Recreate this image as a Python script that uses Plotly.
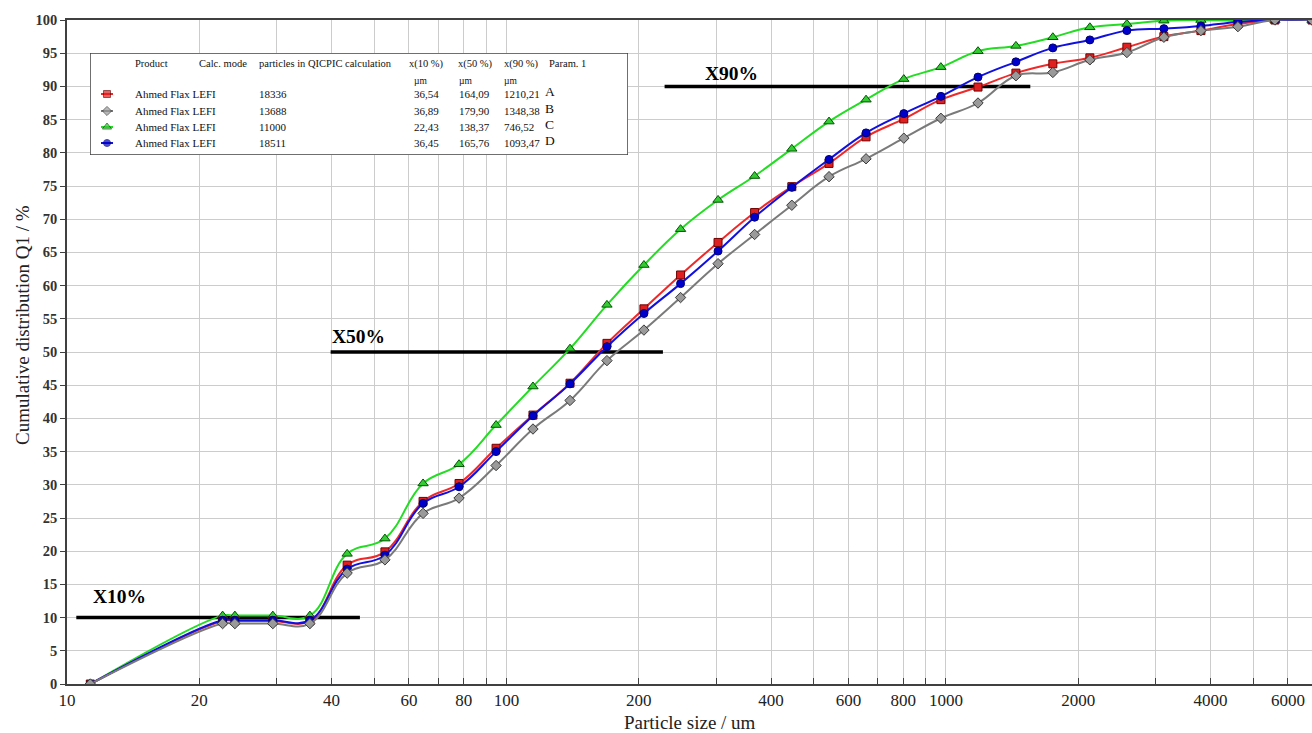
import numpy as np
import plotly.graph_objects as go

# ---------------------------------------------------------------------------
# Particle size classes (µm) and cumulative distributions Q1 (%)
# ---------------------------------------------------------------------------
sizes = [11.3, 22.6, 24.1, 29.4, 35.7, 43.4, 52.9, 64.6, 78.0, 94.7, 114.9,
         139.5, 169.3, 205.5, 249, 303, 367, 446, 542, 658, 802, 974, 1183,
         1443, 1751, 2126, 2581, 3133, 3804, 4617, 5606, 6808]

q1_a = [0, 9.5, 9.5, 9.5, 9.5, 17.9, 19.9, 27.5, 30.2, 35.5, 40.5, 45.3, 51.3,
        56.5, 61.6, 66.5, 71.0, 74.9, 78.4, 82.4, 85.1, 88.0, 89.9, 92.0, 93.4,
        94.3, 95.9, 97.5, 98.4, 99.4, 100, 100]
q1_b = [0, 9.1, 9.1, 9.1, 9.1, 16.7, 18.7, 25.7, 28.0, 32.9, 38.4, 42.7, 48.7,
        53.3, 58.2, 63.3, 67.7, 72.1, 76.4, 79.1, 82.2, 85.2, 87.5, 91.6, 92.1,
        94.0, 95.1, 97.4, 98.4, 99.0, 100, 100]
q1_c = [0, 10.3, 10.3, 10.3, 10.3, 19.6, 21.9, 30.2, 33.1, 39.0, 44.8, 50.5,
        57.1, 63.1, 68.5, 72.9, 76.5, 80.6, 84.7, 88.0, 91.1, 92.9, 95.3, 96.1,
        97.4, 98.9, 99.4, 99.9, 100, 99.9, 100, 100]
q1_d = [0, 9.6, 9.6, 9.6, 9.6, 17.3, 19.4, 27.2, 29.7, 35.0, 40.4, 45.2, 50.8,
        55.8, 60.3, 65.2, 70.3, 74.8, 79.0, 83.0, 85.9, 88.5, 91.4, 93.7, 95.8,
        97.0, 98.4, 98.7, 99.1, 99.7, 100, 100]

# Legend table contents
products = ["Ahmed Flax", "Ahmed Flax", "Ahmed Flax", "Ahmed Flax"]
calc_modes = ["LEFI", "LEFI", "LEFI", "LEFI"]
particle_counts = ["18336", "13688", "11000", "18511"]
x10_values = ["36,54", "36,89", "22,43", "36,45"]
x50_values = ["164,09", "179,90", "138,37", "165,76"]
x90_values = ["1210,21", "1348,38", "746,52", "1093,47"]
param_labels = ["A", "B", "C", "D"]

# Percentile reference lines: level (%), start and end size (µm), caption
pct_levels = [10, 50, 90]
pct_x_start = [10.5, 39.8, 229]
pct_x_end = [46.4, 227, 1556]
pct_captions = ["X10%", "X50%", "X90%"]

# Axis tick labels
x_major_ticks = [10, 20, 40, 60, 80, 100, 200, 400, 600, 800, 1000, 2000, 4000, 6000]
x_minor_ticks = [30, 50, 70, 90, 300, 500, 700, 900, 3000, 5000]

SERIF = "Liberation Serif, Times New Roman, serif"

series_style = {
    "A": dict(line="#f02828", fill="#e02020", edge="#700000", symbol="square", size=8),
    "B": dict(line="#7a7a7a", fill="#9a9a9a", edge="#3a3a3a", symbol="diamond", size=8),
    "C": dict(line="#22dd22", fill="#33cc33", edge="#005500", symbol="triangle-up", size=9),
    "D": dict(line="#1010e0", fill="#0000cc", edge="#000070", symbol="circle", size=8),
}
series_values = {"A": q1_a, "B": q1_b, "C": q1_c, "D": q1_d}

fig = go.Figure()

# Percentile marker lines
for lvl, xs, xe in zip(pct_levels, pct_x_start, pct_x_end):
    fig.add_trace(go.Scatter(
        x=[xs, xe], y=[lvl, lvl], mode="lines",
        line=dict(color="black", width=3.5),
        showlegend=False, hoverinfo="skip"))

# Cumulative curves
for key in ["C", "A", "D", "B"]:
    st = series_style[key]
    fig.add_trace(go.Scatter(
        x=sizes, y=series_values[key], mode="lines+markers",
        line=dict(color=st["line"], width=2, shape="spline", smoothing=1.2),
        marker=dict(symbol=st["symbol"], size=st["size"], color=st["fill"],
                    line=dict(color=st["edge"], width=1)),
        showlegend=False, name=key))

# Captions of percentile lines
caption_pos = [(11.34, 13.2), (39.6, 52.3), (280, 92.0)]
for cap, (cx, cy) in zip(pct_captions, caption_pos):
    fig.add_annotation(
        x=np.log10(cx), y=cy, xref="x", yref="y", text=cap, showarrow=False,
        xanchor="left", yanchor="middle",
        font=dict(family=SERIF, size=19.5, color="black", weight="bold"))

# ---------------------------------------------------------------------------
# Legend table drawn on an inset axis measured in pixels from its top-left
# ---------------------------------------------------------------------------
PLOT_L, PLOT_R, PLOT_T, PLOT_B = 67, 1312, 20, 684
BOX_L, BOX_R, BOX_T, BOX_B = 90, 628, 53, 155
box_w, box_h = BOX_R - BOX_L, BOX_B - BOX_T


def px_x(px):
    return (px - PLOT_L) / (PLOT_R - PLOT_L)


def px_y(py):
    return (PLOT_B - py) / (PLOT_B - PLOT_T)


fig.add_shape(type="rect", xref="x2", yref="y2", x0=0, x1=box_w, y0=0, y1=box_h,
              fillcolor="white", line=dict(color="#404040", width=1.5), layer="below")

row_y = [41, 58, 74, 90]
for i, key in enumerate(param_labels):
    st = series_style[key]
    fig.add_trace(go.Scatter(
        x=[11, 17, 23], y=[row_y[i]] * 3, mode="lines+markers",
        xaxis="x2", yaxis="y2",
        line=dict(color=st["line"], width=2),
        marker=dict(symbol=st["symbol"], size=[0, st["size"] - 1, 0], color=st["fill"],
                    line=dict(color=st["edge"], width=1)),
        showlegend=False, hoverinfo="skip"))


def legend_text(x, y, text, size=10.5):
    fig.add_annotation(x=x, y=y, xref="x2", yref="y2", text=text, showarrow=False,
                       xanchor="left", yanchor="middle",
                       font=dict(family=SERIF, size=size, color="#111111"))


legend_text(43, 11, "Product")
legend_text(107, 11, "Calc. mode")
legend_text(167, 11, "particles in QICPIC calculation")
legend_text(317, 11, "x(10 %)")
legend_text(366, 11, "x(50 %)")
legend_text(412, 11, "x(90 %)")
legend_text(457, 11, "Param. 1")
for ux in (322, 367, 412):
    legend_text(ux, 28, "µm", size=9.5)

for i in range(len(param_labels)):
    legend_text(43, row_y[i], f"{products[i]} {calc_modes[i]}", size=11)
    legend_text(167, row_y[i], particle_counts[i], size=11)
    legend_text(322, row_y[i], x10_values[i], size=11)
    legend_text(367, row_y[i], x50_values[i], size=11)
    legend_text(412, row_y[i], x90_values[i], size=11)
    legend_text(453, row_y[i] - 2, param_labels[i], size=13.5)

# Axis titles
fig.add_annotation(x=0.5, y=px_y(722), xref="paper", yref="paper",
                   text="Particle size / um", showarrow=False,
                   xanchor="center", yanchor="middle",
                   font=dict(family=SERIF, size=19, color="#222222"))
fig.add_annotation(x=px_x(22), y=px_y(325), xref="paper", yref="paper",
                   text="Cumulative distribution Q1 / %", showarrow=False,
                   textangle=-90, xanchor="center", yanchor="middle",
                   font=dict(family=SERIF, size=19, color="#222222"))

GRID = "#cccccc"
AXIS = "#404040"

fig.update_layout(
    width=1312, height=733,
    margin=dict(l=PLOT_L, r=1312 - PLOT_R, t=PLOT_T, b=733 - PLOT_B),
    paper_bgcolor="white", plot_bgcolor="white",
    font=dict(family=SERIF, color="#222222"),
    xaxis=dict(
        type="log", range=[1, np.log10(6808)],
        tickmode="array", tickvals=x_major_ticks,
        ticktext=[str(v) for v in x_major_ticks],
        ticks="inside", ticklen=6, tickcolor=AXIS, tickwidth=1.2,
        showline=True, linecolor=AXIS, linewidth=1.5, mirror=True,
        showgrid=True, gridcolor=GRID, gridwidth=1.3, zeroline=False,
        tickfont=dict(family=SERIF, size=17, color="#222222"),
        minor=dict(tickmode="array", tickvals=x_minor_ticks, ticks="inside",
                   ticklen=6, tickcolor=AXIS, showgrid=True,
                   gridcolor=GRID, gridwidth=1.3),
    ),
    yaxis=dict(
        range=[0, 100], tickmode="linear", tick0=0, dtick=5,
        ticks="outside", ticklen=5, tickcolor=AXIS,
        showline=True, linecolor=AXIS, linewidth=1.5,
        showgrid=True, gridcolor=GRID, gridwidth=1.3, zeroline=False,
        tickfont=dict(family=SERIF, size=14.5, color="#333333", weight="bold"),
    ),
    xaxis2=dict(domain=[px_x(BOX_L), px_x(BOX_R)], range=[0, box_w],
                visible=False, anchor="y2", fixedrange=True),
    yaxis2=dict(domain=[px_y(BOX_B), px_y(BOX_T)], range=[box_h, 0],
                visible=False, anchor="x2", fixedrange=True),
)

fig.write_html("out.html")
